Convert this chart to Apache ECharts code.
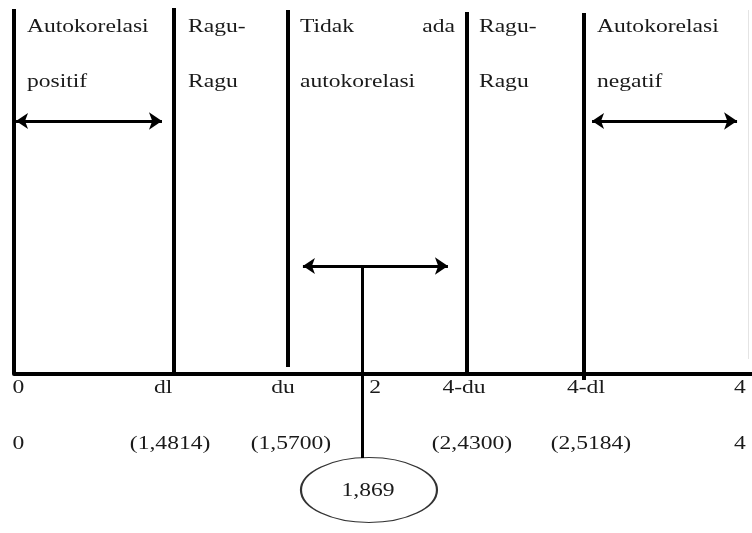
<!DOCTYPE html>
<html>
<head>
<meta charset="utf-8">
<script src="https://cdn.jsdelivr.net/npm/echarts@6/dist/echarts.min.js"></script>
<style>html,body{margin:0;padding:0;background:#fff}#c{width:752px;height:533px}</style>
</head>
<body>
<div id="c"></div>
<script>
// ---- Durbin-Watson decision diagram (schematic positions on a 0..4 axis) ----
// Boundary names and their d values
const boundaryNames  = ['0', 'dl', 'du', '4-du', '4-dl', '4'];
const boundaryValues = ['0', '(1,4814)', '(1,5700)', '(2,4300)', '(2,5184)', '4'];
const dwStatistic = '1,869';
const centreLabel = '2';

// schematic x-positions of the drawn boundary lines (diagram is not to scale)
const boundaryLinePos = [0, 0.867, 1.485, 2.455, 3.089];
const boundaryLineTop = [365, 366, 364, 362, 361];
const boundaryLineBottom = [0, 0, 7, 0, -6];

// region captions (two lines each)
const regionLine1 = ['Autokorelasi', 'Ragu-', 'Tidak', 'ada', 'Ragu-', 'Autokorelasi'];
const regionLine2 = ['positif', 'Ragu', 'autokorelasi', 'Ragu', 'negatif'];
const regionLine1Pos = [0.070, 0.943, 1.550, 2.390, 2.520, 3.160];
const regionLine1Align = ['left', 'left', 'left', 'right', 'left', 'left'];
const regionLine2Pos = [0.070, 0.943, 1.550, 2.520, 3.160];

// tick label rows under the axis
const nameLabelPos  = [0.024, 0.808, 1.458, 2.439, 3.100, 3.935];
const valueLabelPos = [0.024, 0.846, 1.501, 2.482, 3.127, 3.935];
const centreLabelPos = 1.957;

// arrows [x1, x2, level]
const arrowSpans = [[0.011, 0.802, 253], [3.133, 3.919, 253], [1.566, 2.352, 108]];
const dwPos = 1.886;
const ellipsePos = [1.924, -116];

// vertical levels (diagram units above the axis)
const row1Level = 347, row2Level = 291.5;
const nameRowLevel = -14.5, valueRowLevel = -70.5;

// ---- build ----
const FONT = '"Liberation Serif", "Times New Roman", serif';
const texts = [];
regionLine1.forEach((t, i) => texts.push({x: regionLine1Pos[i], y: row1Level, t, a: regionLine1Align[i]}));
regionLine2.forEach((t, i) => texts.push({x: regionLine2Pos[i], y: row2Level, t, a: 'left'}));
boundaryNames.forEach((t, i) => texts.push({x: nameLabelPos[i], y: nameRowLevel, t, a: 'center'}));
texts.push({x: centreLabelPos, y: nameRowLevel, t: centreLabel, a: 'center'});
boundaryValues.forEach((t, i) => texts.push({x: valueLabelPos[i], y: valueRowLevel, t, a: 'center'}));
texts.push({x: ellipsePos[0] - 0.005, y: ellipsePos[1] - 1.5, t: dwStatistic, a: 'center'});

const verticals = boundaryLinePos.map((x, i) => ({coords: [[x, boundaryLineTop[i]], [x, boundaryLineBottom[i]]]}));
const arrows = arrowSpans.map(s => ({coords: [[s[0], s[2]], [s[1], s[2]]]}));

const chart = echarts.init(document.getElementById('c'), null, {renderer: 'canvas'});
chart.setOption({
  animation: false,
  backgroundColor: '#fff',
  grid: {left: 14, right: 0, top: 0, bottom: 0},
  xAxis: {
    type: 'value', min: 0, max: 4,
    axisLine: {show: true, onZero: true, lineStyle: {color: '#000', width: 4}},
    axisTick: {show: false}, axisLabel: {show: false}, splitLine: {show: false}
  },
  yAxis: {
    type: 'value', min: -159, max: 374, show: false,
    splitLine: {show: false}
  },
  series: [
    {
      type: 'lines', coordinateSystem: 'cartesian2d', z: 3,
      lineStyle: {color: '#e4e4e4', width: 1, opacity: 1},
      data: [{coords: [[3.978, 364], [3.978, 15]]}]
    },
    {
      type: 'lines', coordinateSystem: 'cartesian2d', z: 5,
      lineStyle: {color: '#000', width: 4, opacity: 1},
      data: verticals
    },
    {
      type: 'lines', coordinateSystem: 'cartesian2d', z: 5,
      symbol: ['arrow', 'arrow'], symbolSize: [12, 13],
      lineStyle: {color: '#000', width: 3, opacity: 1},
      itemStyle: {color: '#000'},
      data: arrows
    },
    {
      type: 'lines', coordinateSystem: 'cartesian2d', z: 5,
      lineStyle: {color: '#000', width: 3, opacity: 1},
      data: [{coords: [[dwPos, arrowSpans[2][2]], [dwPos, ellipsePos[1] + 32]]}]
    },
    {
      type: 'scatter', z: 4,
      symbol: 'path://M0,50 A50,50 0 1,1 100,50 A50,50 0 1,1 0,50 Z',
      symbolSize: [136, 65], symbolKeepAspect: false,
      itemStyle: {color: 'rgba(255,255,255,0)', borderColor: '#000', borderWidth: 1.5},
      data: [ellipsePos]
    },
    {
      type: 'custom', z: 10,
      data: texts.map(d => [d.x, d.y]),
      renderItem: function (params, api) {
        const d = texts[params.dataIndex];
        const p = api.coord([api.value(0), api.value(1)]);
        return {
          type: 'text', x: p[0], y: p[1], scaleX: 1.24, scaleY: 1,
          style: {text: d.t, fontFamily: FONT, fontSize: 19, fill: '#1a1a1a',
                  align: d.a, verticalAlign: 'middle'}
        };
      }
    }
  ]
});
</script>
</body>
</html>
